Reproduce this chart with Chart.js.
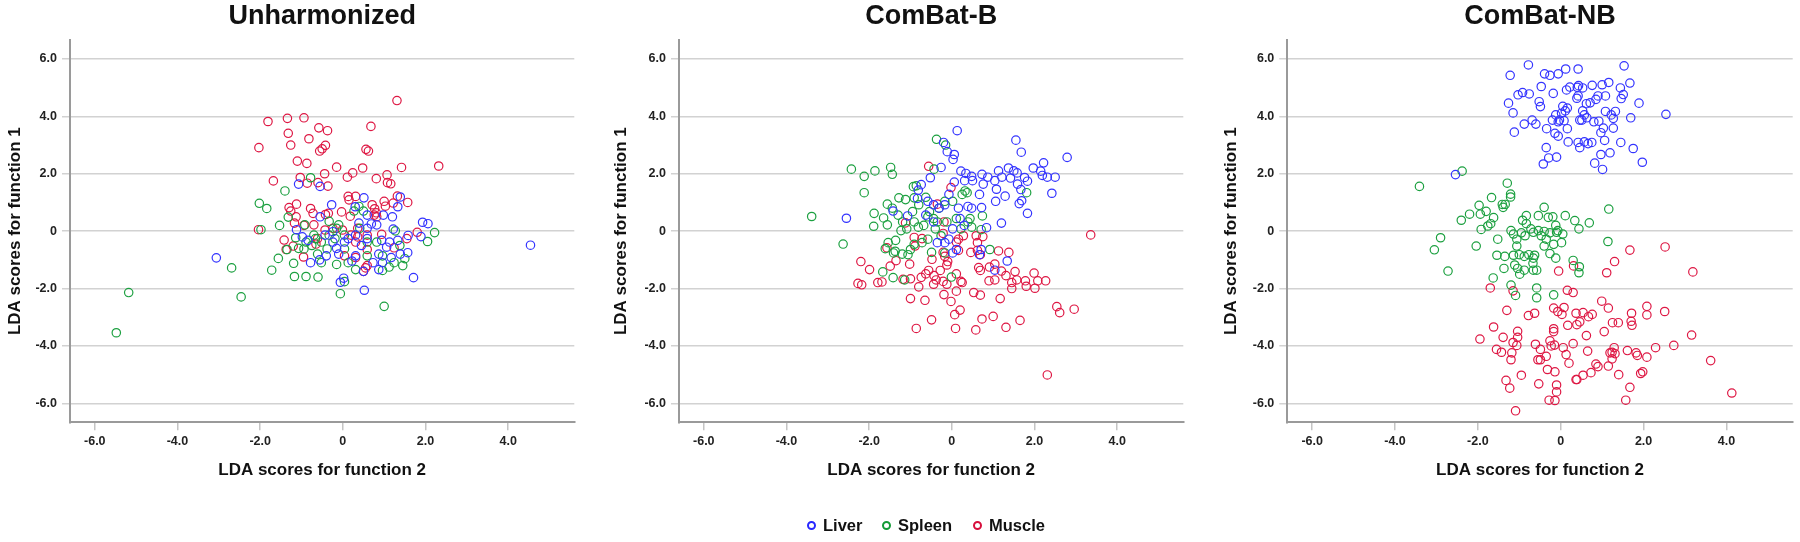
<!DOCTYPE html>
<html>
<head>
<meta charset="utf-8">
<script src="https://cdn.jsdelivr.net/npm/chart.js@4.4.1/dist/chart.umd.min.js"></script>
<style>
body{margin:0;background:#fff;width:1800px;height:542px;position:relative;overflow:hidden;font-family:"Liberation Sans",Arial,sans-serif}
canvas{position:absolute;top:0}
.lg{position:absolute;top:514px;height:22px;line-height:22px;font-size:16.5px;font-weight:bold;color:#111;white-space:nowrap}
.lg i{display:inline-block;width:5px;height:5px;border-radius:50%;border:2.6px solid;vertical-align:middle;margin:-3px 7px 0 0}
</style>
</head>
<body>
<canvas id="c0" width="600" height="542" style="left:0"></canvas>
<canvas id="c1" width="600" height="542" style="left:600px"></canvas>
<canvas id="c2" width="600" height="542" style="left:1200px"></canvas>
<div class="lg" style="left:807px"><i style="border-color:rgb(40,40,255)"></i>Liver</div>
<div class="lg" style="left:882px"><i style="border-color:rgb(20,155,55)"></i>Spleen</div>
<div class="lg" style="left:973px"><i style="border-color:rgb(215,15,60)"></i>Muscle</div>
<script>
// axis ticks and groups
var xTicks = [-6, -4, -2, 0, 2, 4];
var yTicks = [-6, -4, -2, 0, 2, 4, 6];
var groups = ['Liver', 'Spleen', 'Muscle'];
var colors = ['rgb(52,52,255)', 'rgb(28,160,64)', 'rgb(222,24,68)'];
var titles = ['Unharmonized', 'ComBat-B', 'ComBat-NB'];

// Unharmonized, [function 2, function 1]
var unharmLiver = [[4.54,-0.49],[-3.06,-0.93],[-1.07,1.64],[-0.55,1.56],[0.51,1.16],[1.39,1.19],[1.33,0.85],[-0.27,0.92],[0.30,0.85],[0.59,0.56],[0.98,0.56],[1.20,0.50],[-0.55,0.50],[1.93,0.31],[2.06,0.26],[1.89,-0.19],[1.58,-0.15],[1.22,0.07],[0.69,0.25],[0.39,0.28],[-1.12,0.05],[-0.98,-0.20],[-0.84,-0.32],[-0.78,-1.10],[-0.56,-1.00],[-0.40,-0.86],[-0.15,-0.60],[-0.10,-0.80],[0.02,-1.64],[-0.06,-1.78],[0.52,-2.06],[0.50,-1.40],[1.71,-1.62],[1.57,-0.75],[1.39,-0.80],[1.17,-0.92],[0.87,-1.34],[0.94,-0.32],[1.13,-0.38],[0.87,-0.80],[0.59,-0.26],[0.45,-0.50],[0.31,-0.14],[0.13,-0.26],[0.59,0.10],[0.82,0.22],[0.04,-0.38],[0.22,-1.04],[0.73,-1.10],[-0.24,-0.38],[-0.43,-0.14],[0.96,-1.10],[0.31,-0.86],[1.33,-0.32],[1.06,-0.56],[-0.24,-0.02]];
var unharmSpleen = [[-5.48,-3.54],[-5.18,-2.14],[-2.46,-2.29],[-2.69,-1.28],[-2.02,0.97],[-1.84,0.79],[-1.98,0.05],[-1.40,1.40],[-0.78,1.86],[-1.53,0.20],[-1.32,0.49],[-1.56,-0.95],[-1.72,-1.36],[-1.19,-1.12],[-1.17,-1.58],[-0.89,-1.58],[-0.60,-1.60],[-0.06,-2.18],[1.00,-2.62],[0.96,-1.37],[1.12,-1.25],[1.45,-1.20],[1.50,-0.96],[1.38,-0.50],[2.05,-0.36],[2.22,-0.05],[1.27,0.01],[0.39,0.86],[0.27,0.70],[-1.14,-0.23],[-1.07,-0.60],[-1.35,-0.64],[-0.94,-0.62],[-0.92,0.22],[-0.66,-0.26],[-0.52,-0.38],[-0.33,-0.14],[-0.19,-0.26],[-0.15,0.10],[0.04,-0.14],[-0.33,0.34],[-0.10,0.22],[0.41,0.10],[0.59,-0.38],[0.04,-0.62],[0.13,-1.10],[0.31,-1.34],[-0.15,-1.16],[-0.52,-1.10],[-0.61,-0.80],[-0.75,-0.50],[0.96,-0.86],[0.82,-0.38],[0.59,-0.86],[1.24,-1.10],[0.50,0.70],[0.04,-1.76],[-0.70,-0.14],[-0.38,-0.62],[-0.89,-0.38]];
var unharmMuscle = [[1.31,4.55],[-1.81,3.82],[-1.34,3.93],[-0.94,3.95],[-1.32,3.41],[-0.58,3.60],[-0.37,3.50],[0.68,3.65],[-0.82,3.22],[-1.26,3.00],[-0.42,2.99],[-0.50,2.87],[-0.56,2.79],[-2.03,2.91],[0.56,2.85],[0.62,2.79],[-1.10,2.44],[-0.87,2.36],[-0.15,2.23],[0.48,2.20],[1.42,2.22],[2.32,2.27],[-0.44,2.00],[0.24,2.03],[0.11,1.88],[0.81,1.83],[1.07,1.96],[1.08,1.69],[1.16,1.65],[-1.03,1.87],[-1.68,1.75],[-0.86,1.67],[-0.36,1.57],[-0.60,1.69],[0.13,1.21],[0.31,1.21],[0.15,1.09],[1.32,1.22],[1.57,1.00],[1.22,0.98],[1.00,1.04],[1.03,0.87],[-1.12,0.94],[-1.30,0.82],[-0.78,0.79],[-1.26,0.70],[0.71,0.92],[0.77,0.78],[0.81,0.64],[0.76,0.56],[0.82,0.50],[-0.42,0.58],[-0.35,0.62],[-0.03,0.67],[-0.72,0.62],[-1.13,0.50],[-1.17,0.28],[-0.94,0.20],[-0.70,0.22],[-2.04,0.05],[0.18,0.52],[0.36,0.10],[-0.24,0.10],[-0.01,0.04],[0.20,-0.14],[0.36,-0.20],[0.59,-0.14],[0.31,-0.38],[-0.43,0.04],[1.80,-0.04],[1.55,-0.26],[0.94,-0.11],[1.24,-0.58],[-1.42,-0.31],[-1.37,-0.64],[-1.20,-0.52],[-0.95,-0.90],[-0.65,-0.45],[-0.61,-0.26],[0.59,-0.64],[0.31,-0.92],[0.50,-1.40],[0.55,-1.28],[0.59,-1.20],[0.04,-0.86]];

// ComBat-B
var combatBLiver = [[0.13,3.50],[1.55,3.17],[1.68,2.75],[2.79,2.57],[-0.20,3.09],[-0.11,2.77],[0.06,2.67],[0.03,2.50],[-0.26,2.22],[2.22,2.38],[1.97,2.20],[2.15,2.09],[2.19,1.94],[2.31,1.88],[2.50,1.88],[2.42,1.32],[1.37,2.20],[1.13,2.10],[1.50,2.10],[1.58,2.03],[1.76,1.87],[1.83,1.74],[1.42,1.85],[1.21,1.88],[1.59,1.64],[1.67,1.45],[1.63,0.96],[1.69,1.06],[1.83,0.62],[1.29,1.22],[1.06,1.04],[1.04,1.76],[1.08,1.46],[0.22,2.09],[0.34,2.01],[0.48,1.91],[0.73,1.98],[0.87,1.88],[0.31,1.76],[0.50,1.76],[0.06,1.71],[0.76,1.64],[0.67,1.28],[0.72,0.82],[0.84,0.12],[1.20,0.28],[-0.52,1.86],[-0.74,1.62],[-0.81,1.43],[-0.83,1.14],[-0.58,1.04],[-2.55,0.45],[-1.42,0.70],[-1.07,0.53],[-0.44,0.92],[-0.31,0.80],[-0.17,0.92],[-0.07,1.28],[0.16,0.80],[0.39,0.86],[0.48,0.80],[0.20,0.44],[0.30,0.20],[0.02,0.08],[-0.17,-0.40],[-0.07,-0.28],[0.11,-0.64],[0.02,-0.76],[-0.35,-0.40],[0.71,-0.64],[0.67,-0.82],[1.34,-1.04],[1.04,-1.36],[-0.63,0.56],[-0.44,0.32]];
var combatBSpleen = [[-3.39,0.51],[-2.63,-0.45],[-2.43,2.16],[-2.12,1.91],[-2.12,1.34],[-1.86,2.10],[-1.48,2.22],[-1.44,1.98],[-1.88,0.62],[-1.89,0.17],[-1.65,0.46],[-1.56,0.22],[-1.56,0.94],[-1.44,0.80],[-1.54,-0.40],[-1.61,-0.61],[-1.36,-0.32],[-1.37,-0.70],[-1.41,-0.76],[-1.20,-0.80],[-1.06,-0.82],[-1.67,-1.42],[-1.42,-1.62],[-1.14,-1.70],[-0.37,3.20],[-0.15,3.00],[-0.43,2.16],[-0.93,1.55],[-0.86,1.58],[-1.28,1.16],[-1.12,1.10],[-0.91,1.16],[-0.63,1.18],[-0.80,0.92],[-1.30,0.56],[-1.19,0.32],[-1.09,0.08],[-1.23,0.02],[-0.91,0.32],[-0.81,0.14],[-0.68,0.20],[-0.58,0.50],[-0.54,0.68],[-0.44,0.44],[-0.35,0.32],[-0.40,0.08],[-0.31,0.80],[-0.17,1.04],[0.02,1.04],[0.25,1.28],[0.32,1.40],[0.37,1.34],[1.81,1.34],[0.74,0.53],[0.44,0.44],[0.39,0.32],[0.48,0.14],[0.22,0.08],[0.71,0.05],[0.92,-0.64],[-0.49,-0.74],[-0.72,-0.40],[-0.91,-0.46],[-1.00,-0.64],[-0.17,-0.76],[-0.01,-1.60],[-0.58,-0.28],[-0.26,-0.16],[0.11,0.44],[-0.12,0.32],[-0.95,0.68]];
var combatBMuscle = [[-0.56,2.26],[-0.02,1.52],[3.36,-0.13],[2.31,-5.01],[-0.35,0.94],[-0.19,0.32],[-0.21,-0.08],[0.59,-0.16],[0.75,-0.19],[0.62,-0.40],[0.11,-0.38],[0.16,-0.67],[0.62,-0.67],[0.46,-0.74],[0.69,-0.82],[1.13,-0.69],[1.38,-0.74],[-0.91,-0.22],[-0.72,-0.26],[-0.89,-0.52],[-0.21,-0.74],[-0.17,-0.88],[-0.10,-1.06],[-0.48,-0.98],[-0.12,-1.18],[-2.20,-1.06],[-1.99,-1.34],[-2.27,-1.82],[-2.18,-1.87],[-1.79,-1.79],[-1.69,-1.77],[-1.57,-0.58],[-1.49,-1.22],[-1.35,-1.03],[-1.12,0.29],[-1.02,-1.15],[-1.18,-1.68],[-1.00,-1.66],[-0.74,-1.61],[-0.80,-1.94],[-0.63,-1.49],[-0.56,-1.37],[-0.43,-1.55],[-0.38,-1.70],[-0.44,-1.85],[-0.28,-1.37],[-0.21,-1.75],[-0.12,-1.85],[-0.19,-2.21],[0.11,-1.49],[0.25,-1.79],[0.22,-1.75],[0.11,-2.09],[-0.02,-2.45],[0.07,-2.91],[0.20,-2.75],[-1.00,-2.35],[-0.65,-2.41],[-0.49,-3.09],[-0.86,-3.39],[0.09,-3.39],[0.58,-3.44],[0.73,-3.06],[1.00,-2.97],[1.31,-3.35],[1.65,-3.11],[0.53,-2.14],[0.69,-2.23],[0.65,-1.27],[0.69,-1.37],[0.90,-1.73],[1.04,-1.70],[1.04,-1.15],[0.91,-1.25],[1.17,-2.35],[1.20,-1.39],[1.31,-1.55],[1.53,-1.41],[1.45,-1.79],[1.57,-1.70],[1.45,-2.00],[1.78,-1.73],[1.80,-1.92],[1.99,-1.46],[2.01,-1.99],[2.08,-1.73],[2.27,-1.73],[2.54,-2.63],[2.61,-2.84],[2.96,-2.72],[0.28,-0.16],[0.16,-0.28]];

// ComBat-NB
var combatNBLiver = [[-0.78,5.79],[1.53,5.76],[-1.22,5.43],[-0.39,5.48],[-0.26,5.43],[-0.06,5.48],[0.12,5.65],[0.42,5.65],[-1.03,4.75],[-0.92,4.83],[-0.76,4.78],[-0.47,5.04],[-0.18,4.80],[0.14,4.92],[0.22,5.02],[0.40,5.01],[0.43,5.07],[0.53,4.99],[0.76,5.08],[1.00,5.10],[1.16,5.18],[1.67,5.16],[1.44,4.99],[1.51,4.76],[1.46,4.62],[1.08,4.71],[0.90,4.71],[0.85,4.59],[0.71,4.47],[0.62,4.44],[0.42,4.71],[0.39,4.63],[1.89,4.46],[-1.26,4.46],[-1.15,4.12],[-0.52,4.51],[-0.49,4.34],[-0.12,4.05],[0.02,4.11],[0.11,4.19],[0.16,4.29],[0.05,4.35],[-0.20,3.87],[-0.03,3.87],[0.08,3.85],[-0.06,3.81],[0.53,4.19],[0.57,4.05],[0.46,3.87],[0.51,3.87],[0.63,3.95],[0.80,3.81],[0.92,3.83],[1.08,4.17],[1.22,4.05],[1.32,4.17],[1.27,3.93],[1.69,3.95],[2.54,4.07],[-0.69,3.87],[-0.88,3.73],[-0.60,3.73],[-0.34,3.57],[0.16,3.57],[-0.14,3.41],[-0.06,3.31],[-1.12,3.45],[1.03,3.59],[1.27,3.59],[0.97,3.43],[1.06,3.16],[0.18,3.11],[0.42,3.09],[0.57,3.11],[0.66,3.05],[0.75,3.09],[0.46,2.91],[-0.35,2.91],[1.45,3.09],[1.75,2.88],[1.19,2.73],[0.97,2.67],[-0.10,2.58],[-0.29,2.55],[-0.42,2.34],[0.82,2.37],[1.01,2.15],[1.97,2.40],[-2.54,1.97]];
var combatNBSpleen = [[-2.38,2.09],[-3.41,1.56],[-1.29,1.67],[-1.21,1.29],[-1.21,1.19],[-1.67,1.17],[-1.97,0.90],[-1.41,0.93],[-1.34,0.93],[-1.39,0.83],[-1.80,0.69],[-1.94,0.59],[-1.62,0.47],[-2.20,0.59],[-2.40,0.38],[-1.69,0.26],[-1.76,0.18],[-1.92,0.06],[1.16,0.77],[-0.40,0.83],[-0.54,0.54],[-0.83,0.54],[-0.92,0.38],[-0.83,0.26],[-0.30,0.48],[-0.19,0.50],[0.11,0.54],[0.34,0.37],[0.69,0.29],[0.44,0.08],[-0.12,0.20],[-0.07,0.02],[-1.20,0.02],[-1.14,-0.10],[-0.95,-0.06],[-0.86,-0.16],[-0.72,0.08],[-0.66,-0.04],[-0.54,0.02],[-0.40,-0.01],[-0.47,-0.16],[-0.35,-0.28],[-0.26,-0.06],[-0.10,-0.04],[0.05,-0.10],[0.02,-0.40],[-0.17,-0.46],[-0.40,-0.52],[-1.06,-0.28],[-1.06,-0.52],[-1.52,-0.28],[-2.04,-0.52],[-2.90,-0.23],[-3.05,-0.65],[-2.72,-1.39],[-1.54,-0.84],[-1.35,-0.88],[-1.14,-0.84],[-1.00,-0.82],[-0.88,-0.88],[-0.77,-0.82],[-0.66,-0.94],[-0.63,-0.84],[-0.26,-0.78],[-0.12,-0.94],[-0.67,-1.12],[-1.11,-1.18],[-1.04,-1.30],[-1.37,-1.30],[-0.99,-1.50],[-0.88,-1.36],[-0.58,-1.36],[-0.66,-1.36],[-1.63,-1.63],[-1.20,-1.88],[-1.09,-2.24],[-0.58,-1.98],[-0.58,-2.32],[-0.17,-2.22],[0.30,-1.02],[0.45,-1.24],[0.44,-1.45],[1.14,-0.36]];
var combatNBMuscle = [[-0.05,-1.39],[0.31,-1.21],[1.67,-0.66],[2.52,-0.55],[1.30,-1.06],[1.11,-1.45],[3.19,-1.42],[-1.70,-1.98],[-1.15,-2.08],[0.16,-2.06],[0.30,-2.14],[0.99,-2.44],[1.15,-2.68],[2.08,-2.62],[2.08,-2.92],[2.51,-2.80],[-1.30,-2.76],[-0.78,-2.94],[-0.63,-2.86],[-0.17,-2.68],[0.08,-2.66],[-0.07,-2.80],[0.03,-2.90],[0.37,-2.86],[0.54,-2.84],[0.67,-2.98],[0.76,-2.90],[1.71,-2.86],[1.70,-3.14],[1.72,-3.28],[1.25,-3.19],[1.39,-3.19],[0.17,-3.28],[0.39,-3.26],[0.46,-3.16],[-0.17,-3.40],[-0.17,-3.50],[-1.62,-3.34],[-1.04,-3.49],[-1.04,-3.70],[-1.39,-3.70],[-1.95,-3.76],[1.05,-3.50],[0.62,-3.64],[3.16,-3.62],[-1.15,-3.88],[-1.06,-3.98],[-0.61,-3.94],[-0.26,-3.82],[-0.23,-4.00],[-0.15,-3.97],[0.06,-4.06],[0.30,-3.92],[-0.49,-4.12],[-1.55,-4.12],[-1.43,-4.22],[0.65,-4.18],[0.13,-4.30],[0.20,-4.60],[-0.35,-4.36],[-0.49,-4.48],[-0.55,-4.48],[-1.20,-4.48],[1.29,-4.06],[1.24,-4.22],[1.19,-4.24],[1.31,-4.27],[1.61,-4.16],[1.82,-4.24],[1.85,-4.33],[2.08,-4.39],[2.29,-4.06],[2.73,-3.98],[3.62,-4.51],[1.15,-4.70],[1.24,-4.45],[0.85,-4.63],[0.90,-4.72],[0.73,-4.93],[0.54,-5.02],[0.39,-5.17],[0.37,-5.17],[-0.14,-4.90],[-0.32,-4.82],[-0.95,-5.02],[-1.32,-5.20],[-1.23,-5.47],[-0.53,-5.32],[-0.10,-5.36],[-0.10,-5.60],[1.40,-5.00],[1.93,-4.96],[1.98,-4.90],[1.67,-5.44],[1.57,-5.89],[-0.28,-5.89],[-0.14,-5.90],[-1.09,-6.26],[4.13,-5.64],[-1.18,-4.24]];

var panels = [
  [unharmLiver, unharmSpleen, unharmMuscle],
  [combatBLiver, combatBSpleen, combatBMuscle],
  [combatNBLiver, combatNBSpleen, combatNBMuscle]
];
// y axis width, right padding, y title offset for each panel
var yAxisW = [70, 79, 87.3];
var padRight = [25.7, 16.7, 7.3];
var yTitlePad = [5.1, 11.6, 21.2];

var fam = '"Liberation Sans", Arial, sans-serif';
var tickFont = {family: fam, size: 12.5, weight: 'bold'};
var axisFont = {family: fam, size: 17, weight: 'bold'};

function fmt(v) {
  return v === 0 ? '0' : v.toFixed(1);
}

panels.forEach(function(sets, p) {
  var ctx = document.getElementById('c' + p).getContext('2d');
  new Chart(ctx, {
    type: 'scatter',
    data: {
      datasets: sets.map(function(pts, i) {
        return {
          label: groups[i],
          data: pts.map(function(d) { return {x: d[0], y: d[1]}; }),
          borderColor: colors[i],
          backgroundColor: 'rgba(0,0,0,0)',
          pointRadius: 4.2,
          pointHoverRadius: 4.2,
          pointBorderWidth: 1.2
        };
      })
    },
    options: {
      responsive: false,
      animation: false,
      layout: {padding: {left: 0, right: padRight[p], top: 0, bottom: 0}},
      plugins: {
        legend: {display: false},
        tooltip: {enabled: false},
        title: {
          display: true,
          text: titles[p],
          fullSize: false,
          color: '#111',
          font: {family: fam, size: 27, weight: 'bold'},
          padding: {top: 0, bottom: 7.6}
        }
      },
      scales: {
        x: {
          type: 'linear',
          min: -6.6,
          max: 5.6,
          afterBuildTicks: function(s) { s.ticks = xTicks.map(function(v) { return {value: v}; }); },
          afterFit: function(s) { s.height = 119.7; },
          grid: {drawOnChartArea: false, drawTicks: true, tickLength: 8, color: '#c4c4c4', lineWidth: 1.5},
          border: {color: '#9a9a9a', width: 2},
          ticks: {color: '#222', font: tickFont, padding: 4, maxRotation: 0, callback: fmt},
          title: {display: true, text: 'LDA scores for function 2', color: '#111', font: axisFont, padding: {top: 0, bottom: 61}}
        },
        y: {
          type: 'linear',
          min: -6.66,
          max: 6.66,
          afterBuildTicks: function(s) { s.ticks = yTicks.map(function(v) { return {value: v}; }); },
          afterFit: function(s) { s.width = yAxisW[p]; },
          grid: {drawTicks: true, tickLength: 8, color: '#d2d2d2', lineWidth: 1.5},
          border: {color: '#9a9a9a', width: 2},
          ticks: {color: '#222', font: tickFont, padding: 5, callback: fmt},
          title: {display: true, text: 'LDA scores for function 1', color: '#111', font: axisFont, padding: {top: yTitlePad[p], bottom: 0}}
        }
      }
    }
  });
});
</script>
</body>
</html>
